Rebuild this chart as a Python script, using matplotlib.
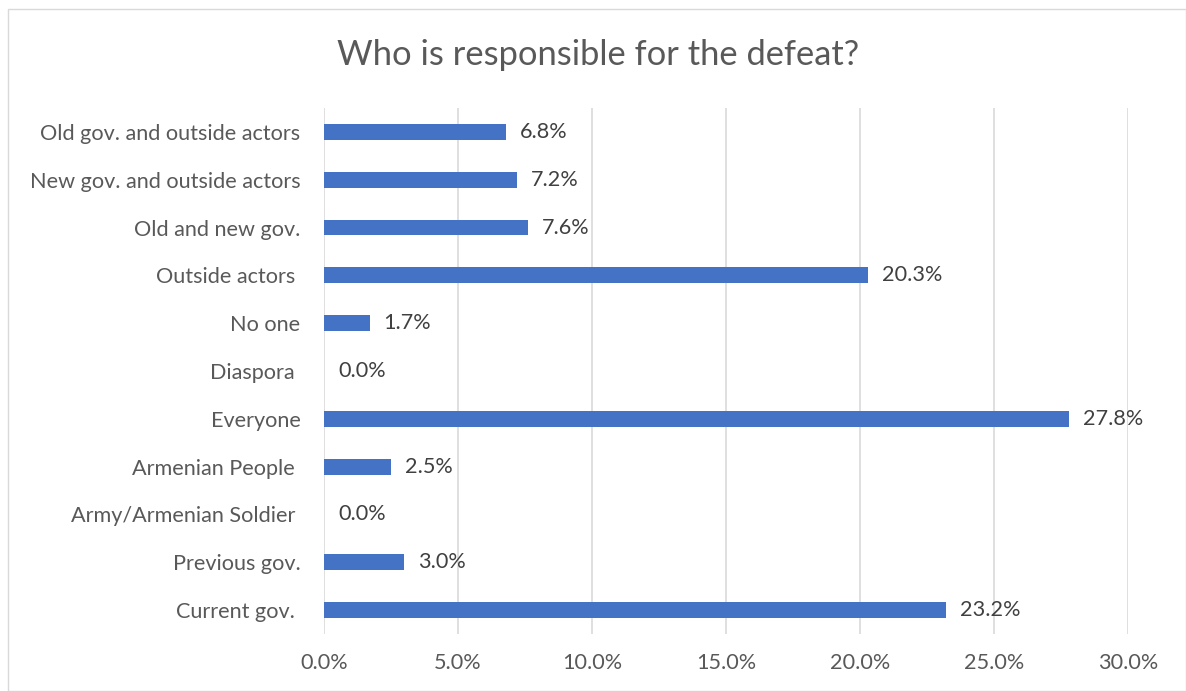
import matplotlib
matplotlib.use("Agg")
import matplotlib.pyplot as plt
from matplotlib.patches import Rectangle

categories = ["Current gov. ", "Previous gov.", "Army/Armenian Soldier ", "Armenian People ",
              "Everyone", "Diaspora ", "No one", "Outside actors ", "Old and new gov.",
              "New gov. and outside actors", "Old gov. and outside actors"]
values = [23.2, 3.0, 0.0, 2.5, 27.8, 0.0, 1.7, 20.3, 7.6, 7.2, 6.8]
xticks = [0, 5, 10, 15, 20, 25, 30]
xtick_labels = ["0.0%", "5.0%", "10.0%", "15.0%", "20.0%", "25.0%", "30.0%"]
title = "Who is responsible for the defeat?"

plt.rcParams['font.family'] = ['Lato', 'DejaVu Sans']
txt = "#595959"
fs = 15.6

fig = plt.figure(figsize=(11.86, 6.91), dpi=100)
fig.patch.set_facecolor("white")
fig.patches.append(Rectangle((8/1186, 0), 1 - 8/1186, 1 - 9/691, transform=fig.transFigure,
                             fill=False, edgecolor="#d9d9d9", linewidth=1.0))

ax = fig.add_axes([324/1186, 1 - 634/691, (1128 - 324)/1186, (634 - 108)/691])
y = list(range(len(categories)))
ax.barh(y, values, height=0.33, color="#4472C4", zorder=3)
for yi, v in zip(y, values):
    ax.annotate(f"{v:.1f}%", (v, yi), xytext=(10, 0), textcoords="offset points",
                va="center", ha="left", fontsize=fs, color="#404040")

ax.set_xlim(0, 30)
ax.set_ylim(-0.5, len(categories) - 0.5)
ax.set_xticks(xticks)
ax.set_xticklabels(xtick_labels, fontsize=fs, color=txt)
ax.set_yticks(y)
ax.set_yticklabels(categories, fontsize=fs, color=txt)
ax.tick_params(axis="x", length=0, pad=14)
ax.tick_params(axis="y", length=0, pad=17)
ax.grid(axis="x", color="#d9d9d9", linewidth=1.2, zorder=0)
for s in ax.spines.values():
    s.set_visible(False)

fig.text(598/1186, 1 - 55/691, title, ha="center", va="center", fontsize=24.8, color=txt)

fig.savefig("out.png", dpi=100)
